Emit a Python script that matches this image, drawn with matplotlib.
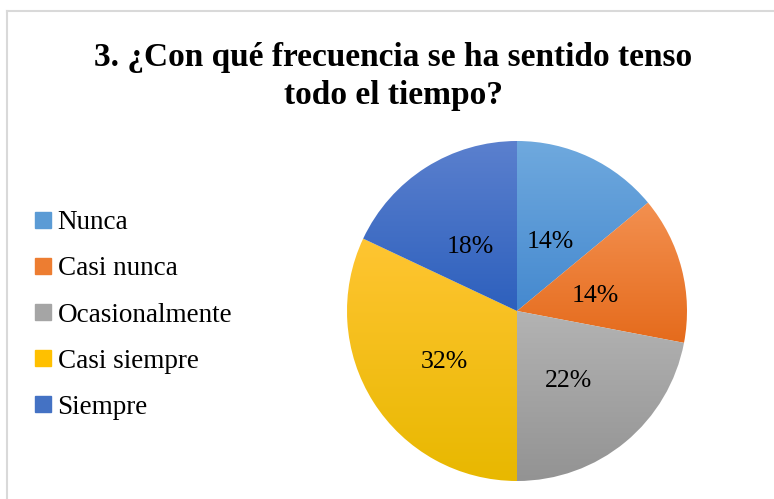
'''Pie chart: 3. ¿Con qué frecuencia se ha sentido tenso todo el tiempo?'''

import numpy as np
import matplotlib
matplotlib.use('Agg')
import matplotlib.pyplot as plt
from matplotlib.colors import LinearSegmentedColormap
from matplotlib.lines import Line2D
from matplotlib.transforms import ScaledTranslation

plt.rcParams['font.family'] = ['Liberation Serif', 'DejaVu Serif']

# data
categories = ['Nunca', 'Casi nunca', 'Ocasionalmente', 'Casi siempre', 'Siempre']
percent = [14, 14, 22, 32, 18]
title = '3. ¿Con qué frecuencia se ha sentido tenso\ntodo el tiempo?'

# gradient colours per slice (top, bottom) and a middle one for the legend
top_colors = ['#6FA9DE', '#F39050', '#B3B3B3', '#FFC532', '#5B80CE']
bottom_colors = ['#4589CF', '#E56B1C', '#939393', '#E8B800', '#2D60BD']
mid_colors = ['#5B9BD5', '#ED7D31', '#A5A5A5', '#FFC000', '#4472C4']

W, H = 774, 499
fig = plt.figure(figsize=(W / 100, H / 100), dpi=100)

# pie axes: centre (517, 311) px, radius 170 px
cx, cy, r = 517, 311, 170
ax = fig.add_axes([(cx - r) / W, (H - cy - r) / H, 2 * r / W, 2 * r / H])

wedges, texts, autotexts = ax.pie(percent, colors=mid_colors, startangle=90,
                                  counterclock=False, radius=1,
                                  autopct='%1.0f%%', pctdistance=0.49,
                                  textprops={'fontsize': 18.5, 'color': 'black'})
ax.set_aspect('equal')
ax.axis('off')

# Excel-style vertical gradient in each slice
for w, c_top, c_bot in zip(wedges, top_colors, bottom_colors):
    path = w.get_path().transformed(w.get_patch_transform())
    x0, y0 = path.vertices.min(axis=0)
    x1, y1 = path.vertices.max(axis=0)
    cmap = LinearSegmentedColormap.from_list('g', [c_bot, c_top])
    grad = np.linspace(0, 1, 256).reshape(-1, 1)
    im = ax.imshow(grad, cmap=cmap, origin='lower', aspect='auto',
                   extent=[x0, x1, y0, y1], zorder=w.get_zorder() + 0.1)
    im.set_clip_path(w)
    w.set_facecolor('none')

# labels sit a little lower in the reference
shift = ScaledTranslation(-2 / 100, -6 / 100, fig.dpi_scale_trans)
for t in autotexts:
    t.set_zorder(5)
    t.set_transform(ax.transData + shift)

ax.set_xlim(-1, 1)
ax.set_ylim(-1, 1)

# title
fig.text(393 / W, 1 - 42 / H, title, ha='center', va='top', fontsize=24,
         fontweight='bold', linespacing=1.28)

# legend
handles = [Line2D([], [], marker='s', linestyle='none', markersize=11,
                  markerfacecolor=c, markeredgecolor=c) for c in mid_colors]
fig.legend(handles, categories, loc='center left',
           bbox_to_anchor=(21 / W, 1 - 315 / H), frameon=False,
           fontsize=19.5, handlelength=0.6, handletextpad=0.25,
           labelspacing=0.78, borderpad=0)

# thin grey frame (top and left edges visible in the crop)
fig.add_artist(Line2D([7 / W, 1], [1 - 11 / H, 1 - 11 / H], color='#D9D9D9', lw=1.5))
fig.add_artist(Line2D([7 / W, 7 / W], [0, 1 - 11 / H], color='#D9D9D9', lw=1.5))

fig.savefig('out.png', dpi=100)
